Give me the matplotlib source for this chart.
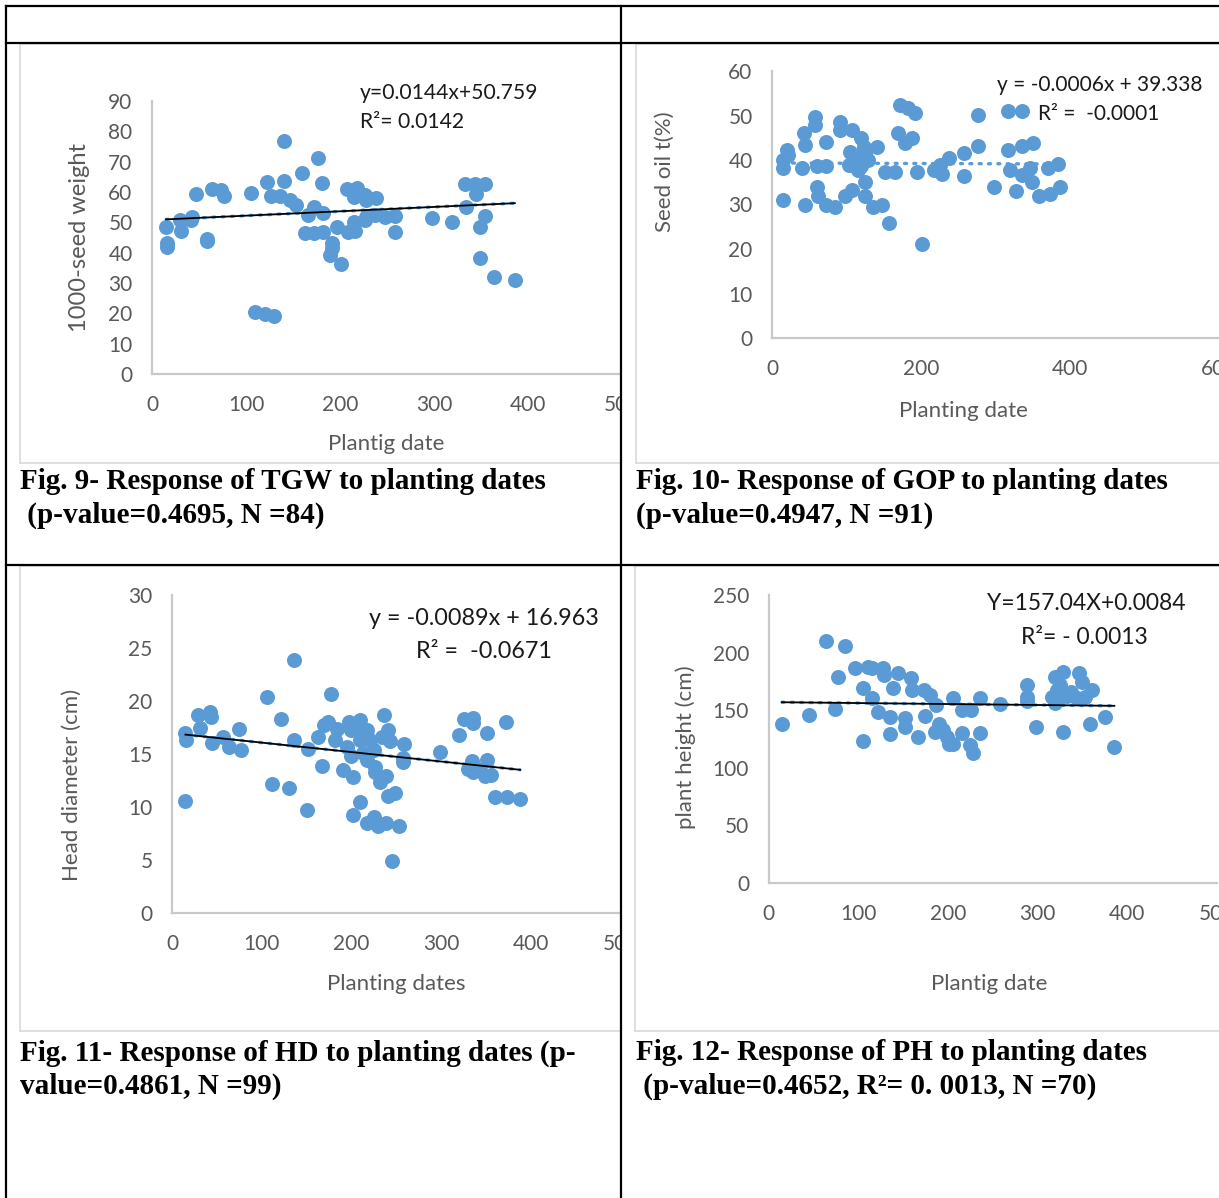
import numpy as np
import matplotlib.pyplot as plt
from matplotlib.lines import Line2D
from matplotlib.transforms import Bbox, TransformedBbox

W, H = 1219, 1198

# Fig. 9 - 1000-seed weight vs planting date
tgw_x = [15, 16, 16, 30, 31, 43, 42, 47, 58, 58, 64, 73, 77, 105, 122, 140, 140, 127,
         136, 147, 153, 160, 177, 181, 172, 166, 182, 163, 172, 182, 191, 189, 201, 197,
         191, 207, 218, 215, 227, 238, 228, 209, 216, 215, 227, 228, 237, 248, 259, 258,
         298, 319, 334, 333, 344, 354, 345, 354, 349, 349, 364, 386, 110, 120, 130]
tgw_y = [48.4, 43.1, 42.0, 50.8, 47.3, 51.7, 50.8, 59.4, 44.6, 43.7, 61.0, 60.5, 58.8,
         59.6, 63.3, 76.9, 63.7, 58.6, 58.8, 57.5, 55.8, 66.4, 71.3, 63.1, 55.0, 52.5,
         53.0, 46.6, 46.4, 46.9, 43.1, 39.3, 36.1, 48.6, 41.5, 61.0, 61.2, 58.5, 59.1,
         58.0, 57.4, 46.9, 47.1, 50.2, 50.8, 51.9, 52.5, 51.9, 52.1, 46.9, 51.5, 50.0,
         55.0, 62.5, 62.5, 62.5, 59.4, 52.1, 48.4, 38.1, 32.0, 30.9, 20.6, 19.7, 19.2]
tgw_slope, tgw_icpt = 0.0144, 50.759

# Fig. 10 - seed oil vs planting date
gop_x = [15, 15, 15, 20, 22, 40, 43, 44, 44, 58, 58, 60, 61, 62, 73, 73, 73, 85, 91, 91,
         98, 107, 107, 103, 105, 111, 120, 123, 125, 120, 116, 129, 125, 125, 136, 147,
         141, 152, 165, 157, 169, 179, 188, 172, 183, 192, 194, 201, 217, 228, 226, 237,
         258, 258, 276, 276, 298, 317, 317, 335, 335, 351, 320, 328, 335, 346, 349, 358,
         373, 371, 384, 386]
gop_y = [31.0, 38.1, 40.0, 42.3, 41.1, 38.1, 46.1, 43.4, 29.9, 49.7, 47.9, 38.6, 34.0,
         31.8, 38.6, 44.1, 29.9, 29.5, 48.6, 46.7, 31.8, 33.3, 46.7, 38.9, 41.9, 40.8,
         44.9, 43.0, 41.6, 38.6, 37.8, 40.0, 35.1, 31.8, 29.5, 29.8, 43.0, 37.4, 37.4,
         25.8, 46.0, 43.8, 44.9, 52.3, 51.6, 50.6, 37.4, 21.1, 37.7, 36.9, 38.9, 40.4,
         41.6, 36.4, 50.1, 43.1, 34.0, 42.3, 51.1, 51.1, 43.1, 43.8, 37.7, 33.1, 36.6,
         38.1, 35.1, 32.0, 32.4, 38.3, 39.2, 34.0]
gop_slope, gop_icpt = -0.0006, 39.338

# Fig. 11 - head diameter vs planting date
hd_x = [15, 15, 16, 29, 31, 42, 43, 45, 57, 63, 75, 77, 106, 111, 122, 130, 136, 136,
        151, 152, 167, 163, 169, 174, 177, 184, 182, 191, 202, 197, 199, 195, 199, 210,
        212, 217, 210, 213, 221, 225, 217, 226, 226, 236, 234, 241, 243, 232, 239, 241,
        249, 210, 202, 217, 225, 230, 239, 253, 259, 258, 258, 299, 320, 325, 336, 336,
        335, 330, 336, 351, 351, 349, 356, 360, 373, 388, 372, 343, 245]
hd_y = [10.6, 17.0, 16.3, 18.7, 17.5, 19.0, 18.5, 16.0, 16.6, 15.7, 17.4, 15.4, 20.4,
        12.2, 18.3, 11.8, 23.9, 16.3, 9.7, 15.5, 13.9, 16.6, 17.7, 18.0, 20.7, 17.4,
        16.3, 13.5, 12.8, 18.0, 17.3, 15.7, 14.8, 18.2, 17.1, 17.3, 16.3, 15.1, 16.3,
        15.4, 14.4, 13.8, 13.3, 18.7, 16.6, 17.3, 16.2, 12.4, 12.9, 11.0, 11.3, 10.5,
        9.2, 8.5, 9.1, 8.2, 8.5, 8.2, 15.9, 14.6, 14.2, 15.2, 16.8, 18.3, 18.4, 17.9,
        14.3, 13.6, 13.3, 14.4, 17.0, 12.9, 13.0, 10.9, 10.9, 10.8, 18.0, 13.5, 4.9]
hd_slope, hd_icpt = -0.0089, 16.963

# Fig. 12 - plant height vs planting date
ph_x = [15, 45, 64, 85, 74, 78, 96, 106, 105, 111, 115, 116, 122, 128, 129, 139, 144,
        136, 136, 152, 152, 159, 160, 167, 173, 180, 175, 187, 190, 186, 195, 199, 201,
        206, 206, 216, 216, 226, 225, 228, 236, 236, 258, 288, 288, 288, 299, 320, 322,
        320, 329, 329, 333, 346, 350, 344, 361, 359, 376, 386, 325, 338, 323, 316, 353]
ph_y = [137.8, 145.8, 210.1, 205.7, 150.8, 179.1, 186.9, 169.0, 123.6, 187.8, 186.9,
        160.3, 148.7, 186.4, 180.6, 169.0, 182.0, 143.8, 129.3, 142.9, 135.7, 177.7,
        167.5, 127.0, 167.5, 163.2, 144.9, 154.4, 138.4, 131.2, 132.6, 127.0, 120.6,
        120.6, 160.3, 150.2, 129.9, 150.2, 119.7, 112.5, 160.3, 129.9, 155.4, 171.9,
        161.8, 158.3, 135.7, 179.1, 167.5, 156.0, 131.2, 183.5, 162.3, 182.0, 174.8,
        160.3, 167.5, 138.4, 143.8, 117.8, 171.9, 166.1, 158.9, 161.8, 161.8]
ph_slope, ph_icpt = -0.0084, 157.04

BLUE = "#5B9BD5"
GREY = "#595959"
AXIS = "#c9c9c9"
SANS = "Lato"
SERIF = "Liberation Serif"

fig = plt.figure(figsize=(W / 100, H / 100), dpi=100)


def fx(px):
    return px / W


def fy(py):
    return 1 - py / H


def hline(x0, x1, y, color="black", lw=1.6):
    fig.add_artist(Line2D([fx(x0), fx(x1)], [fy(y), fy(y)], color=color, lw=lw,
                          transform=fig.transFigure))


def vline(x, y0, y1, color="black", lw=1.6):
    fig.add_artist(Line2D([fx(x), fx(x)], [fy(y0), fy(y1)], color=color, lw=lw,
                          transform=fig.transFigure))


def panel(px_box, xs, ys, xmax, xstep, ymax, ystep, slope, icpt, solid, clip_x=None):
    # px_box: pixel positions of x=0, x=xmax, y=0, y=ymax
    x0, x1, yb, yt = px_box
    ax = fig.add_axes([fx(x0), fy(yb), (x1 - x0) / W, (yb - yt) / H])
    ax.patch.set_visible(False)
    ax.set_xlim(0, xmax)
    ax.set_ylim(0, ymax)
    ax.set_xticks(np.arange(0, xmax + 1, xstep))
    ax.set_yticks(np.arange(0, ymax + 0.1, ystep))
    for s in ["top", "right"]:
        ax.spines[s].set_visible(False)
    for s in ["left", "bottom"]:
        ax.spines[s].set_color(AXIS)
        ax.spines[s].set_linewidth(1.6)
    ax.tick_params(length=0, labelsize=15, labelcolor=GREY)
    ax.tick_params(axis="x", pad=15)
    ax.tick_params(axis="y", pad=14)
    for lbl in ax.get_xticklabels() + ax.get_yticklabels():
        lbl.set_fontfamily(SANS)

    ax.plot(xs, ys, "o", ms=10.8, color=BLUE, mec="none", clip_on=False, zorder=2)
    tx = np.array([min(xs), max(xs)])
    ax.plot(tx, slope * tx + icpt, color=BLUE, lw=2.4, ls=(0, (0.6, 2.2)),
            dash_capstyle="round", zorder=3)
    if solid:
        ax.plot(tx, slope * tx + icpt, color="black", lw=1.3, zorder=4)

    if clip_x is not None:
        box = TransformedBbox(Bbox([[0, 0], [fx(clip_x), 1]]), fig.transFigure)
        for lbl in ax.get_xticklabels():
            lbl.set_clip_box(box)
            lbl.set_clip_on(True)
        for sp in ax.spines.values():
            sp.set_clip_box(box)
            sp.set_clip_on(True)
    return ax


def label(px, py, s, size=16, rot=0, ha="center", color=GREY, family=SANS, weight="normal"):
    fig.text(fx(px), fy(py), s, ha=ha, va="center", rotation=rot, fontsize=size,
             color=color, fontfamily=family, fontweight=weight)


# chart area frames
for (l, t, r, b) in [(20, 44, 621, 463), (636, 44, 1230, 463),
                     (20, 566, 621, 1031), (635, 566, 1230, 1031)]:
    hline(l, r, t, color="#d9d9d9", lw=1.2)
    hline(l, r, b, color="#d9d9d9", lw=1.2)
    vline(l, t, b, color="#d9d9d9", lw=1.2)

panel((152, 622, 374, 101), tgw_x, tgw_y, 500, 100, 90, 10, tgw_slope, tgw_icpt, True, clip_x=620)
panel((772, 1219, 338, 71), gop_x, gop_y, 600, 200, 60, 10, gop_slope, gop_icpt, False)
panel((172, 620.5, 913, 595), hd_x, hd_y, 500, 100, 30, 5, hd_slope, hd_icpt, True, clip_x=620)
panel((768.5, 1216.5, 883, 595), ph_x, ph_y, 500, 100, 250, 50, ph_slope, ph_icpt, True)

# axis titles
label(386, 444, "Plantig date")
label(80, 237, "1000-seed weight", rot=90, size=17)
label(963, 411, "Planting date")
label(665, 172, "Seed oil t(%)", rot=90)
label(396, 984, "Planting dates")
label(72, 785, "Head diameter (cm)", rot=90)
label(989, 984, "Plantig date")
label(686, 747, "plant height (cm)", rot=90)

# regression equations
EQ = "#1a1a1a"
label(360, 93, "y=0.0144x+50.759", size=15.2, ha="left", color=EQ)
label(360, 122, "R²= 0.0142", size=15.2, ha="left", color=EQ)
label(997, 85, "y = -0.0006x + 39.338", size=15, ha="left", color=EQ)
label(1038, 114, "R² =  -0.0001", size=15, ha="left", color=EQ)
label(369, 618, "y = -0.0089x + 16.963", size=16.8, ha="left", color=EQ)
label(416, 651, "R² =  -0.0671", size=16.8, ha="left", color=EQ)
label(987, 604, "Y=157.04X+0.0084", size=16.5, ha="left", color=EQ)
label(1021, 637, "R²= - 0.0013", size=16.5, ha="left", color=EQ)

# captions
cap = dict(size=21, ha="left", color="black", family=SERIF, weight="bold")
label(20, 482, "Fig. 9- Response of TGW to planting dates", **cap)
label(20, 515, " (p-value=0.4695, N =84)", **cap)
label(636, 482, "Fig. 10- Response of GOP to planting dates", **cap)
label(636, 515, "(p-value=0.4947, N =91)", **cap)
label(20, 1053, "Fig. 11- Response of HD to planting dates (p-", **cap)
label(20, 1086, "value=0.4861, N =99)", **cap)
label(636, 1053, "Fig. 12- Response of PH to planting dates", **cap)
label(636, 1086, " (p-value=0.4652, R²= 0. 0013, N =70)", **cap)

# table borders
hline(6, W, 6)
hline(6, W, 43)
hline(6, W, 565)
vline(6, 6, H)
vline(621, 6, H)

fig.savefig("out.png", dpi=100)
